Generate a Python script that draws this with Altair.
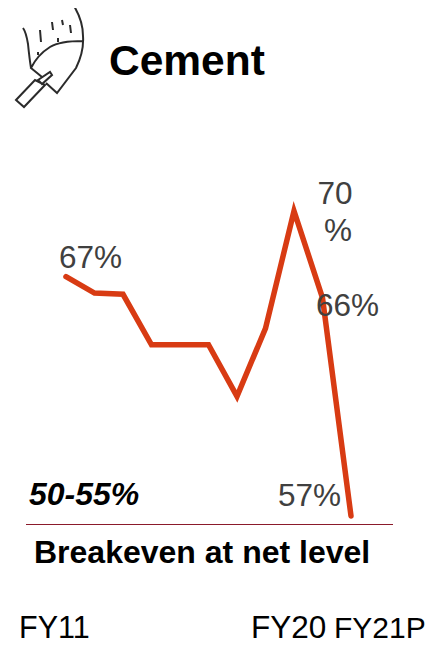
import altair as alt
import pandas as pd

years = ["FY11", "FY12", "FY13", "FY14", "FY15", "FY16", "FY17", "FY18", "FY19", "FY20", "FY21P"]
utilisation = [67.2, 66.5, 66.45, 64.3, 64.3, 64.3, 62.1, 65.0, 70.0, 66.3, 57.0]
breakeven = [49.2]

FONT = "Liberation Sans"
ICON = ("M66 -2 C72 8 75 16 75 28 C76 42 72 52 68 60 L49 85 L38 75 "
        "M75 33 C60 33 50 34 42 39 C34 44 27 52 23 60 L34 69 "
        "M15 20 C18 24 19 30 20 36 C21 46 22 54 23 60 "
        "M32 22 L33 34 M44 14 L45 22 M54 12 L55 17 M62 17 L63 25 M50 30 L50 34 M30 44 L30 47 "
        "M30 72 L42 64 L44 67 L34 76 Z "
        "M8 92 L16 99 L37 77 L27 72 Z")

df = pd.DataFrame({"year": years, "value": utilisation})

x = alt.X("year:N", sort=years, axis=None,
          scale=alt.Scale(domain=years, range=[58, 343], padding=0))
y = alt.Y("value:Q", axis=None,
          scale=alt.Scale(domain=[57, 70], range=[508, 203], nice=False, zero=False))

line = alt.Chart(df).mark_line(color="#D83B13", strokeWidth=5.5, strokeCap="round",
                               strokeJoin="miter", clip=False).encode(x=x, y=y)

rule = alt.Chart(pd.DataFrame({"b": breakeven})).mark_rule(color="#8B1A2B", strokeWidth=1).encode(
    x=alt.value(18), x2=alt.value(385), y=alt.value(516.5))


def label(text, px, py, size=31.5, color="#404040", align="left", weight="normal", style="normal", **kw):
    return alt.Chart(pd.DataFrame({"t": [text]})).mark_text(
        font=FONT, fontSize=size, color=color, align=align, baseline="alphabetic",
        fontWeight=weight, fontStyle=style, **kw
    ).encode(x=alt.value(px), y=alt.value(py), text="t:N")


icon = alt.Chart(pd.DataFrame({"i": ["icon"]})).mark_point(
    shape=ICON, size=4, filled=False, stroke="#2b2b2b", strokeWidth=2, opacity=1
).encode(x=alt.value(0), y=alt.value(0))

chart = alt.layer(
    icon,
    line,
    rule,
    label("Cement", 101, 67, size=42.5, color="#000000", weight="bold"),
    label("67%", 51, 260),
    label("70", 327, 196, align="center"),
    label("%", 330, 233, align="center"),
    label("66%", 308, 308),
    label("57%", 270, 498),
    label("50-55%", 21, 497, size=32, color="#000000", weight="bold", style="italic"),
    label("Breakeven at net level", 26, 555, size=32, color="#000000", weight="bold"),
    label("FY11", 11, 630, size=30.5, color="#000000"),
    label("FY20", 243, 630, size=31.5, color="#000000"),
    label("FY21P", 326, 630, size=30, color="#000000"),
).properties(
    width=418, height=637, padding=0,
    autosize=alt.AutoSizeParams(type="none"),
).configure_view(stroke=None)

chart.save("out.html", embed_options={"renderer": "svg", "actions": False})
